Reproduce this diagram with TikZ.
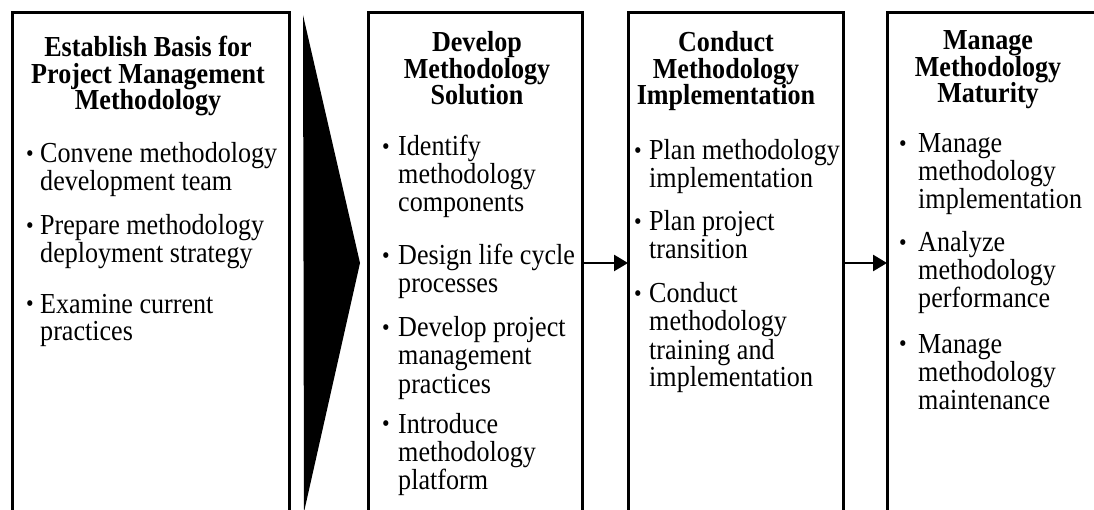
\documentclass[tikz,border=0pt]{standalone}
\usepackage{fontspec}
\setmainfont{Liberation Serif}[FakeStretch=0.9]
\usetikzlibrary{arrows.meta}
\newcommand\mycenter[1]{\vtop{\baselineskip=26.5pt\lineskiplimit=-50pt\halign{\hfil##\hfil\cr#1\crcr}}}
\newcommand\myleft[1]{\vtop{\baselineskip=28pt\lineskiplimit=-50pt\halign{##\hfil\cr#1\crcr}}}
\begin{document}
\begin{tikzpicture}[x={(1pt,0pt)},y={(0pt,-1pt)},
 box/.style={draw=black,line width=3pt,minimum height=500pt,inner sep=0pt,outer sep=0pt},
 ttl/.style={anchor=base,inner sep=0pt,font=\fontsize{29}{28}\selectfont\bfseries},
 itm/.style={anchor=base west,inner sep=0pt,font=\fontsize{29}{28}\selectfont},
 bul/.style={anchor=base,inner sep=0pt,yshift=1.5pt,font=\fontsize{24}{24}\selectfont},
 link/.style={line width=2.5pt,-{Triangle[length=14pt,width=16pt]}}]
\fill[white] (0,0) rectangle (1094,510);
\useasboundingbox (0,0) rectangle (1094,510);
\begin{scope}
\clip (0,0) rectangle (1094,510);
\node[box,minimum width=277pt] (b1) at (150.5,263) {};
\node[box,minimum width=214pt] (b2) at (475,263) {};
\node[box,minimum width=215pt] (b3) at (735.5,263) {};
\node[box,minimum width=213pt] (b4) at (993.5,263) {};
\fill[black] (303,15) -- (360,263) -- (304,512) -- cycle;
\end{scope}
\draw[link] (b2.east) -- (b3.west);
\draw[link] (b3.east) -- (b4.west);
% titles
\node[ttl] (t1) at (148,57) {\mycenter{Establish Basis for\cr Project Management\cr Methodology}};
\node[ttl] (t2) at (477,52) {\mycenter{Develop\cr Methodology\cr Solution}};
\node[ttl] (t3) at (726,52) {\mycenter{Conduct\cr Methodology\cr Implementation}};
\node[ttl] (t4) at (988,50) {\mycenter{Manage\cr Methodology\cr Maturity}};
% box 1
\node[itm] (i11) at (40,163) {\myleft{Convene methodology\cr development team}};
\node[itm] (i12) at (40,235) {\myleft{Prepare methodology\cr deployment strategy}};
\node[itm] (i13) at (40,313) {\myleft{Examine current\cr practices}};
\node[bul] (d11) at (30,163) {•};
\node[bul] (d12) at (30,235) {•};
\node[bul] (d13) at (30,313) {•};
% box 2
\node[itm] (i21) at (398,156) {\myleft{Identify\cr methodology\cr components}};
\node[itm] (i22) at (398,265) {\myleft{Design life cycle\cr processes}};
\node[itm] (i23) at (398,337) {\myleft{Develop project\cr management\cr practices}};
\node[itm] (i24) at (398,433) {\myleft{Introduce\cr methodology\cr platform}};
\node[bul] (d21) at (386,156) {•};
\node[bul] (d22) at (386,265) {•};
\node[bul] (d23) at (386,337) {•};
\node[bul] (d24) at (386,433) {•};
% box 3
\node[itm] (i31) at (649,160) {\myleft{Plan methodology\cr implementation}};
\node[itm] (i32) at (649,231) {\myleft{Plan project\cr transition}};
\node[itm] (i33) at (649,303) {\myleft{Conduct\cr methodology\cr training and\cr implementation}};
\node[bul] (d31) at (638,160) {•};
\node[bul] (d32) at (638,231) {•};
\node[bul] (d33) at (638,303) {•};
% box 4
\node[itm] (i41) at (918,153) {\myleft{Manage\cr methodology\cr implementation}};
\node[itm] (i42) at (918,252) {\myleft{Analyze\cr methodology\cr performance}};
\node[itm] (i43) at (918,353) {\myleft{Manage\cr methodology\cr maintenance}};
\node[bul] (d41) at (903,153) {•};
\node[bul] (d42) at (903,252) {•};
\node[bul] (d43) at (903,353) {•};
\end{tikzpicture}
\end{document}
